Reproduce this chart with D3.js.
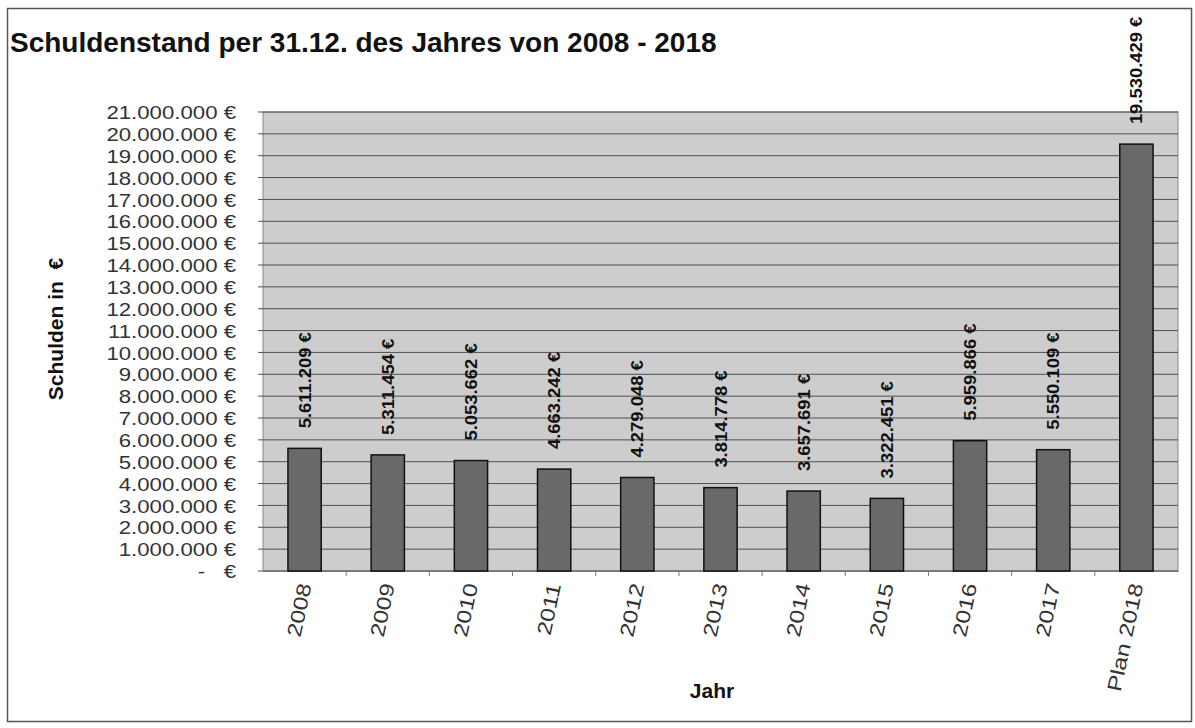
<!DOCTYPE html>
<html><head><meta charset="utf-8">
<script src="https://cdn.jsdelivr.net/npm/d3@7"></script>
<style>
body{margin:0;background:#fff;}
svg{display:block;font-family:"Liberation Sans",Arial,sans-serif;}
</style></head>
<body>
<svg id="chart" width="1195" height="728"></svg>
<script>
const categories = ["2008","2009","2010","2011","2012","2013","2014","2015","2016","2017","Plan 2018"];
const values = [5611209,5311454,5053662,4663242,4279048,3814778,3657691,3322451,5959866,5550109,19530429];
const yTicks = d3.range(0, 21000001, 1000000);
const titleText = "Schuldenstand per 31.12. des Jahres von 2008 - 2018";
const yTitle = "Schulden in  €";
const xTitle = "Jahr";

const svg = d3.select("#chart");
const m = {left:263, right:1178, top:112, bottom:571};
const de = d3.formatLocale({decimal:",", thousands:".", grouping:[3], currency:["","€"]});
const fmt = de.format(",.0f");
const tickFmt = v => v === 0 ? "-   €" : fmt(v) + " €";
function stretch(sel, k){
  sel.each(function(){
    const L = this.getComputedTextLength();
    d3.select(this).attr("textLength", L*k).attr("lengthAdjust","spacingAndGlyphs");
  });
}

// frame
svg.append("rect").attr("x",7.5).attr("y",8.5).attr("width",1184).attr("height",713)
  .attr("fill","#fff").attr("stroke","#555").attr("stroke-width",1.5);

const x = d3.scaleBand().domain(categories).range([m.left, m.right]).paddingInner(0.6).paddingOuter(0.3);
const y = d3.scaleLinear().domain([0, 21000000]).range([m.bottom, m.top]);

// plot bg
svg.append("rect").attr("x",m.left).attr("y",m.top).attr("width",m.right-m.left).attr("height",m.bottom-m.top)
  .attr("fill","#cdcdcd").attr("stroke","#888");

// gridlines
svg.append("g").selectAll("line").data(yTicks).join("line")
  .attr("x1",m.left-5).attr("x2",m.right).attr("y1",d=>y(d)).attr("y2",d=>y(d))
  .attr("stroke","#505050").attr("stroke-width",1);

// y axis
const yAxis = d3.axisLeft(y).tickValues(yTicks).tickFormat(tickFmt).tickSize(0).tickPadding(27);
const yg = svg.append("g").attr("transform",`translate(${m.left},0)`).call(yAxis);
yg.select(".domain").remove();
yg.selectAll("text").attr("font-size",18.5).attr("fill","#333").attr("font-family","'Liberation Sans',Arial,sans-serif")
  .attr("dy","0.36em").attr("xml:space","preserve").style("white-space","pre");
stretch(yg.selectAll("text"), 1.2);

// x axis
const xAxis = d3.axisBottom(x).tickSize(0).tickPadding(0);
const xg = svg.append("g").attr("transform",`translate(0,${m.bottom})`).call(xAxis);
xg.select(".domain").attr("stroke","#777");
xg.selectAll("text").remove();
// category separator ticks
svg.append("g").selectAll("line").data(categories.slice(1)).join("line")
  .attr("x1",d=>x(d)-(x.step()-x.bandwidth())/2)
  .attr("x2",d=>x(d)-(x.step()-x.bandwidth())/2)
  .attr("y1",m.bottom).attr("y2",m.bottom+5).attr("stroke","#777");
const xl = svg.append("g").selectAll("text").data(categories).join("text")
  .attr("transform",d=>`translate(${x(d)+x.bandwidth()/2+7},${m.bottom+14}) rotate(-78)`)
  .attr("text-anchor","end").attr("font-size",20).attr("fill","#333")
  .text(d=>d);
stretch(xl, 1.22);

// bars
svg.append("g").selectAll("rect").data(values).join("rect")
  .attr("x",(d,i)=>x(categories[i])).attr("width",x.bandwidth())
  .attr("y",d=>y(d)).attr("height",d=>y(0)-y(d))
  .attr("fill","#696969").attr("stroke","#111").attr("stroke-width",1.5);

// value labels
const vl = svg.append("g").selectAll("text").data(values).join("text")
  .attr("transform",(d,i)=>`translate(${x(categories[i])+x.bandwidth()/2+6},${y(d)-20}) rotate(-90)`)
  .attr("font-size",16).attr("font-weight","bold").attr("fill","#111")
  .text(d=>fmt(d)+" €");
stretch(vl, 1.15);

// titles
svg.append("text").attr("x",10).attr("y",52).attr("font-size",28).attr("font-weight","bold").attr("fill","#111").text(titleText);
svg.append("text").attr("transform",`translate(63,329) rotate(-90)`)
  .attr("text-anchor","middle").attr("font-size",21).attr("font-weight","bold").attr("fill","#111")
  .attr("xml:space","preserve").style("white-space","pre").text(yTitle);
svg.append("text").attr("x",712).attr("y",698).attr("text-anchor","middle").attr("font-size",21).attr("font-weight","bold").attr("fill","#111").text(xTitle);
</script>
</body></html>
